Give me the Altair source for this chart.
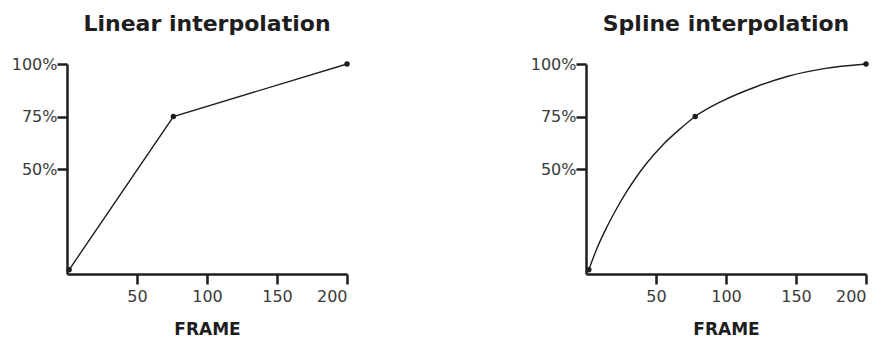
import altair as alt
import pandas as pd

# Key frames (frame, percent)
lin_x = [1.5, 76, 200]
lin_y = [2, 75, 100]
spl_x = [2, 78, 200]
spl_y = [2, 75, 100]

# Spline curve
curve_x = [2, 8, 15, 22, 29, 36, 43, 55, 67, 78, 98, 122, 145, 170, 200]
curve_y = [2, 12.5, 22.5, 31.3, 39.2, 46.2, 52.5, 61.6, 69, 75, 82.6, 89.3, 94.3, 97.8, 100]

x_ticks = [50, 100, 150, 200]
y_ticks = [50, 75, 100]

titles = ["Linear interpolation", "Spline interpolation"]

FONT = "DejaVu Sans"
INK = "#1e1e1e"


def panel(title, px, py, cx, cy, interp):
    pts = pd.DataFrame({"x": px, "y": py})
    line = pd.DataFrame({"x": cx, "y": cy})
    xenc = alt.X(
        "x:Q",
        scale=alt.Scale(domain=[0, 200], nice=False),
        axis=alt.Axis(values=x_ticks, title="FRAME", labelPadding=4,
                      titlePadding=17),
    )
    yenc = alt.Y(
        "y:Q",
        scale=alt.Scale(domain=[0, 100], nice=False),
        axis=alt.Axis(values=y_ticks, title=None, labelExpr="datum.value + '%'",
                      labelPadding=0, minExtent=59, maxExtent=59),
    )
    l = alt.Chart(line).mark_line(color=INK, strokeWidth=1.4,
                                  interpolate=interp).encode(
        x=xenc, y=yenc, order="x:Q"
    )
    p = alt.Chart(pts).mark_circle(color=INK, size=30, opacity=1).encode(
        x="x:Q", y="y:Q"
    )
    return alt.layer(l, p).properties(
        width=280, height=210,
        title=alt.TitleParams(title, fontSize=22, font=FONT, fontWeight="bold",
                              color=INK, anchor="middle", offset=20),
    )


left = panel(titles[0], lin_x, lin_y, lin_x, lin_y, "linear")
right = panel(titles[1], spl_x, spl_y, curve_x, curve_y, "monotone")

chart = alt.hconcat(left, right, spacing=177).properties(
    padding={"left": 0, "top": 5, "right": 0, "bottom": 0}
).configure_view(stroke=None).configure_axis(
    grid=False,
    domainColor=INK, domainWidth=2.5,
    tickColor=INK, tickWidth=2.5, tickSize=10,
    labelFont=FONT, labelFontSize=16, labelColor="#3a3a3a",
    titleFont=FONT, titleFontSize=17, titleFontWeight="bold", titleColor=INK,
)

chart.save("out.html", embed_options={"renderer": "svg", "actions": False})
